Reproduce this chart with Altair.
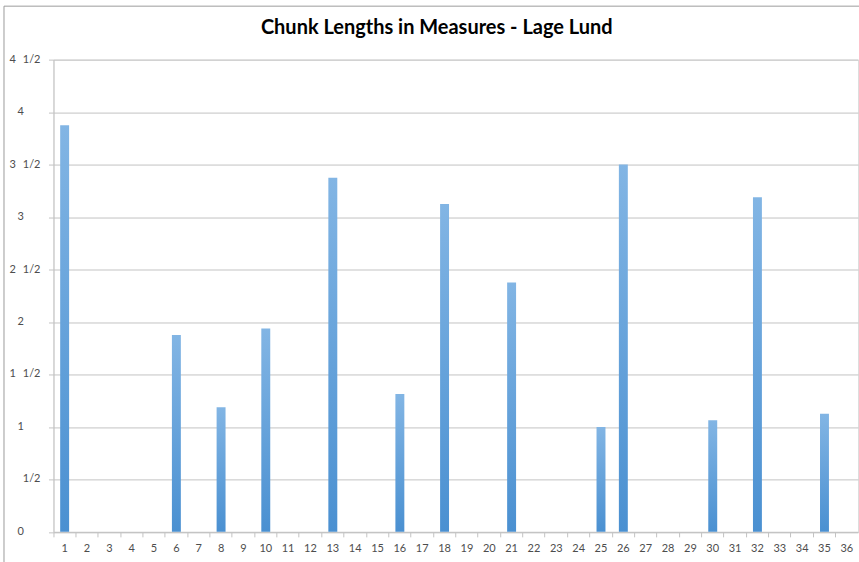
import altair as alt
import pandas as pd

# Measure numbers and chunk lengths (in measures)
measures = list(range(1, 37))
chunk_lengths = [3.875, 0, 0, 0, 0, 1.875, 0, 1.1875, 0, 1.9375,
                 0, 0, 3.375, 0, 0, 1.3125, 0, 3.125, 0, 0,
                 2.375, 0, 0, 0, 1.0, 3.5, 0, 0, 0, 1.0625,
                 0, 3.1875, 0, 0, 1.125, 0]

# Y axis ticks shown as mixed fractions
y_ticks = [0, 0.5, 1, 1.5, 2, 2.5, 3, 3.5, 4, 4.5]
GAP = "\u2002\u2009"
y_tick_labels = ["0", "1/2", "1", "1" + GAP + "1/2",
                 "2", "2" + GAP + "1/2", "3", "3" + GAP + "1/2",
                 "4", "4" + GAP + "1/2"]

df = pd.DataFrame({"measure": measures, "length": chunk_lengths})
ticks = pd.DataFrame({"value": y_ticks, "label": y_tick_labels})

FONT = "Lato"
GRID = "#C3C3C3"
LABEL = "#4D4D4D"
W, H = 805, 472.5
Y_SCALE = alt.Scale(domain=[0, 4.5], nice=False)
Y_AXIS = alt.Axis(
    values=y_ticks,
    labels=False,
    title=None,
    tickSize=5,
    tickColor=GRID,
    domainColor=GRID,
    gridColor=GRID,
    gridWidth=1,
)

bars = alt.Chart(df).mark_bar(
    width=alt.RelativeBandSize(0.4),
    color=alt.Gradient(
        gradient="linear",
        x1=0, y1=0, x2=0, y2=1,
        stops=[alt.GradientStop(color="#82B5E4", offset=0),
               alt.GradientStop(color="#4A90D1", offset=1)],
    ),
).encode(
    x=alt.X(
        "measure:O",
        title=None,
        scale=alt.Scale(paddingInner=0, paddingOuter=0),
        axis=alt.Axis(
            labelAngle=0,
            bandPosition=0,
            labelFont=FONT,
            labelFontSize=11,
            labelColor=LABEL,
            labelPadding=6,
            tickSize=5,
            tickColor=GRID,
            domainColor=GRID,
            grid=False,
        ),
    ),
    y=alt.Y("length:Q", title=None, scale=Y_SCALE, axis=Y_AXIS),
)

# Tick labels: whole numbers leave room for a fraction after them
label_base = alt.Chart(ticks).mark_text(
    align="right", baseline="middle", font=FONT, fontSize=11, color=LABEL
)
whole_labels = label_base.transform_filter("datum.value % 1 == 0").encode(
    y=alt.Y("value:Q", title=None, scale=Y_SCALE, axis=Y_AXIS),
    x=alt.value(-29.5),
    text="label:N",
)
half_labels = label_base.transform_filter("datum.value % 1 != 0").encode(
    y=alt.Y("value:Q", title=None, scale=Y_SCALE, axis=Y_AXIS),
    x=alt.value(-13),
    text="label:N",
)

# Outer chart frame: top and left edges
one = pd.DataFrame({"k": [0]})
frame_top = alt.Chart(one).mark_rule(stroke="#9C9C9C", strokeWidth=1).encode(
    x=alt.value(-49.5), x2=alt.value(900), y=alt.value(-53.5),
)
frame_left = alt.Chart(one).mark_rule(stroke="#9C9C9C", strokeWidth=1).encode(
    x=alt.value(-49.5), y=alt.value(-53.5), y2=alt.value(600),
)

chart = alt.layer(frame_top, frame_left, bars, whole_labels, half_labels).properties(
    width=W,
    height=H,
    title=alt.TitleParams(
        "Chunk Lengths in Measures - Lage Lund",
        font=FONT,
        fontSize=20,
        fontWeight="bold",
        color="#000000",
        anchor="middle",
        frame="group",
        baseline="alphabetic",
        offset=-48,
        dx=-19,
    ),
    autosize=alt.AutoSizeParams(type="none"),
    padding={"left": 53.5, "top": 59.5, "right": 1, "bottom": 30},
).configure_view(stroke=None).configure(background="white")

chart.save("out.html", embed_options={"renderer": "svg", "actions": False})
